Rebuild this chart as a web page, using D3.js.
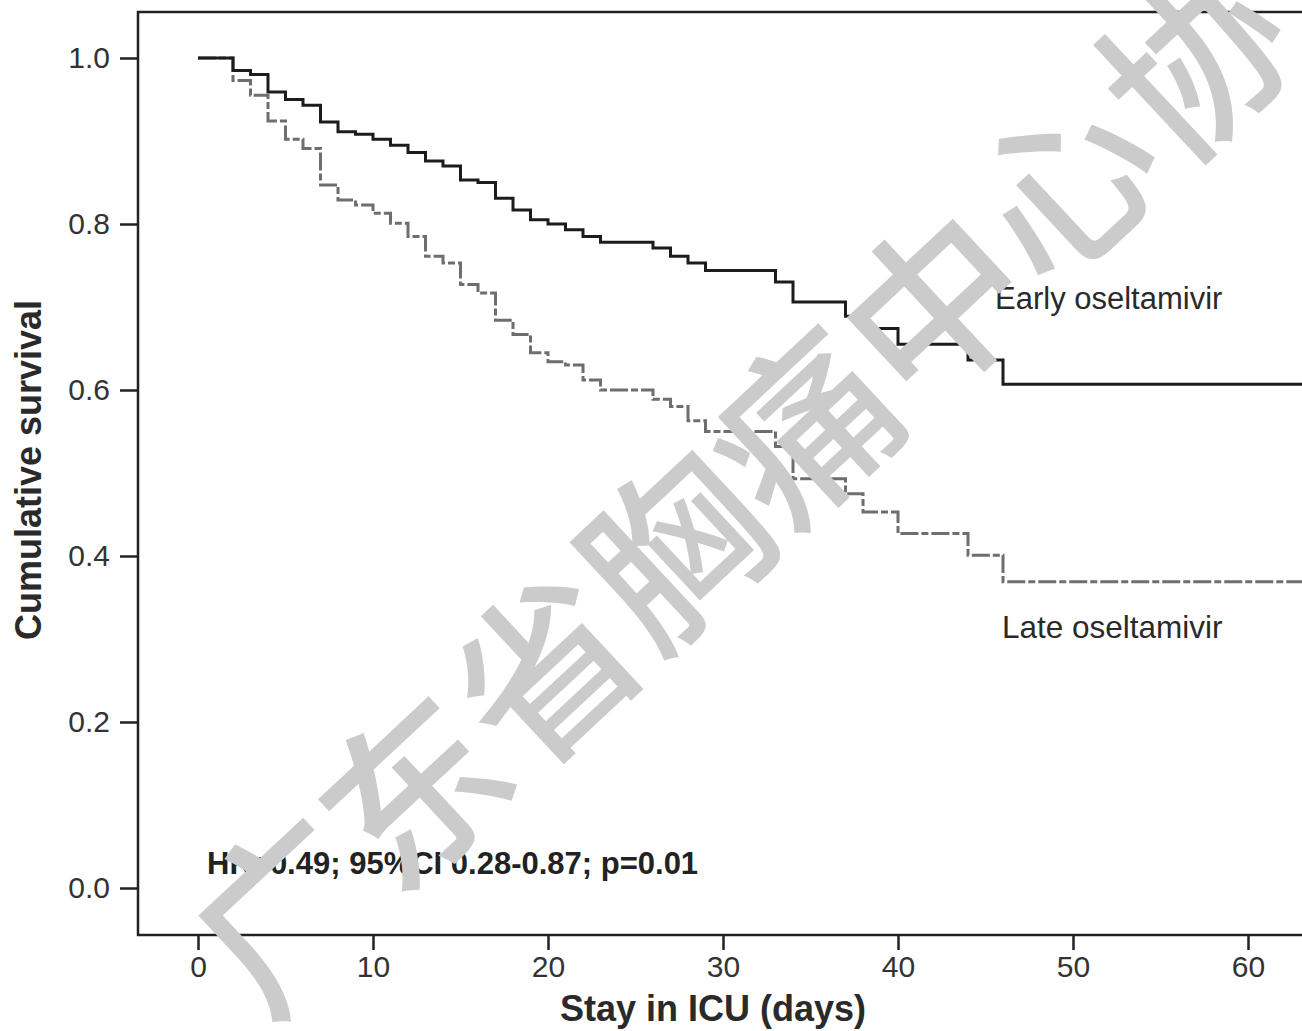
<!DOCTYPE html>
<html>
<head>
<meta charset="utf-8">
<script src="https://cdn.jsdelivr.net/npm/d3@7"></script>
<style>
  body { margin: 0; background: #fff; }
  text { font-family: "Liberation Sans", Arial, sans-serif; }
</style>
</head>
<body>
<script>
// Kaplan-Meier steps (day of step, survival after it)
var earlyDays = [0, 2, 3, 4, 5, 6, 7, 8, 9, 10, 11, 12, 13, 14, 15, 16, 17, 18, 19, 20, 21, 22, 23, 26, 27, 28, 29, 33, 34, 37, 38, 40, 44, 46];
var earlySurv = [1.0, 0.985, 0.980, 0.959, 0.950, 0.943, 0.923, 0.911, 0.908, 0.902, 0.895, 0.886, 0.876, 0.870, 0.853, 0.850, 0.831, 0.817, 0.805, 0.800, 0.793, 0.785, 0.778, 0.771, 0.761, 0.753, 0.744, 0.730, 0.706, 0.689, 0.674, 0.655, 0.636, 0.607];
var lateDays = [0, 2, 3, 4, 5, 6, 7, 8, 9, 10, 11, 12, 13, 14, 15, 16, 17, 18, 19, 20, 21, 22, 23, 26, 27, 28, 29, 33, 34, 37, 38, 40, 44, 46];
var lateSurv = [1.0, 0.973, 0.955, 0.924, 0.902, 0.891, 0.847, 0.829, 0.823, 0.813, 0.801, 0.785, 0.761, 0.753, 0.727, 0.717, 0.684, 0.667, 0.645, 0.634, 0.630, 0.612, 0.600, 0.589, 0.580, 0.563, 0.550, 0.532, 0.493, 0.475, 0.453, 0.427, 0.401, 0.369];
var lastDay = 66;

var xTicks = [0, 10, 20, 30, 40, 50, 60];
var yTicks = [0.0, 0.2, 0.4, 0.6, 0.8, 1.0];

var margin = {top: 12, left: 138},
    width = 1200,
    height = 923;

var x = d3.scaleLinear().domain([0, 60]).range([60, 1110]),
    y = d3.scaleLinear().domain([0, 1]).range([876, 46]);

var svg = d3.select("body").append("svg")
  .attr("width", 1302)
  .attr("height", 1031);

var g = svg.append("g")
  .attr("transform", "translate(" + margin.left + "," + margin.top + ")");

g.append("clipPath").attr("id", "plotclip")
  .append("rect").attr("width", width).attr("height", height);

function steps(days, surv) {
  var pts = days.map(function(d, i) { return [d, surv[i]]; });
  pts.push([lastDay, surv[surv.length - 1]]);
  return pts;
}

var line = d3.line()
  .x(function(d) { return x(d[0]); })
  .y(function(d) { return y(d[1]); })
  .curve(d3.curveStepAfter);

g.append("path")
  .datum(steps(lateDays, lateSurv))
  .attr("clip-path", "url(#plotclip)")
  .attr("fill", "none")
  .attr("stroke", "#6e6e6e")
  .attr("stroke-width", 3)
  .attr("stroke-dasharray", "18,3,7,3")
  .attr("d", line);

g.append("path")
  .datum(steps(earlyDays, earlySurv))
  .attr("clip-path", "url(#plotclip)")
  .attr("fill", "none")
  .attr("stroke", "#1c1c1c")
  .attr("stroke-width", 3)
  .attr("d", line);

// box around the plot
g.append("rect")
  .attr("width", width)
  .attr("height", height)
  .attr("fill", "none")
  .attr("stroke", "#222")
  .attr("stroke-width", 2.5);

var yAxis = g.append("g")
  .call(d3.axisLeft(y).tickValues(yTicks).tickFormat(d3.format(".1f")).tickSize(18).tickPadding(10));

var xAxis = g.append("g")
  .attr("transform", "translate(0," + height + ")")
  .call(d3.axisBottom(x).tickValues(xTicks).tickSize(15).tickPadding(6));

[yAxis, xAxis].forEach(function(a) {
  a.select(".domain").remove();
  a.selectAll(".tick line").attr("stroke", "#222").attr("stroke-width", 2.5);
  a.selectAll(".tick text")
    .attr("fill", "#333")
    .style("font-size", "30px")
    .style("font-family", "'Liberation Sans', Arial, sans-serif");
});

svg.append("text")
  .attr("transform", "translate(41,470) rotate(-90)")
  .attr("text-anchor", "middle")
  .attr("fill", "#2a2a2a")
  .style("font-size", "36px")
  .style("font-weight", "bold")
  .text("Cumulative survival");

svg.append("text")
  .attr("x", 713)
  .attr("y", 1021)
  .attr("text-anchor", "middle")
  .attr("fill", "#2a2a2a")
  .style("font-size", "36px")
  .style("font-weight", "bold")
  .text("Stay in ICU (days)");

svg.append("text")
  .attr("x", 995).attr("y", 309)
  .attr("fill", "#2a2a2a")
  .style("font-size", "31px")
  .text("Early oseltamivir");

svg.append("text")
  .attr("x", 1002).attr("y", 638)
  .attr("fill", "#2a2a2a")
  .style("font-size", "31.5px")
  .text("Late oseltamivir");

svg.append("text")
  .attr("x", 207).attr("y", 874)
  .attr("fill", "#222")
  .style("font-size", "31px")
  .style("font-weight", "bold")
  .text("HR=0.49; 95%CI 0.28-0.87; p=0.01");

// watermark over the chart
svg.append("text")
  .attr("transform", "translate(212,966) rotate(-43)")
  .attr("dominant-baseline", "central")
  .attr("fill", "#cbcbcb")
  .style("font-family", "'Noto Sans CJK SC', sans-serif")
  .style("font-size", "178px")
  .style("font-weight", "500")
  .text("广东省胸痛中心协");
</script>
</body>
</html>
